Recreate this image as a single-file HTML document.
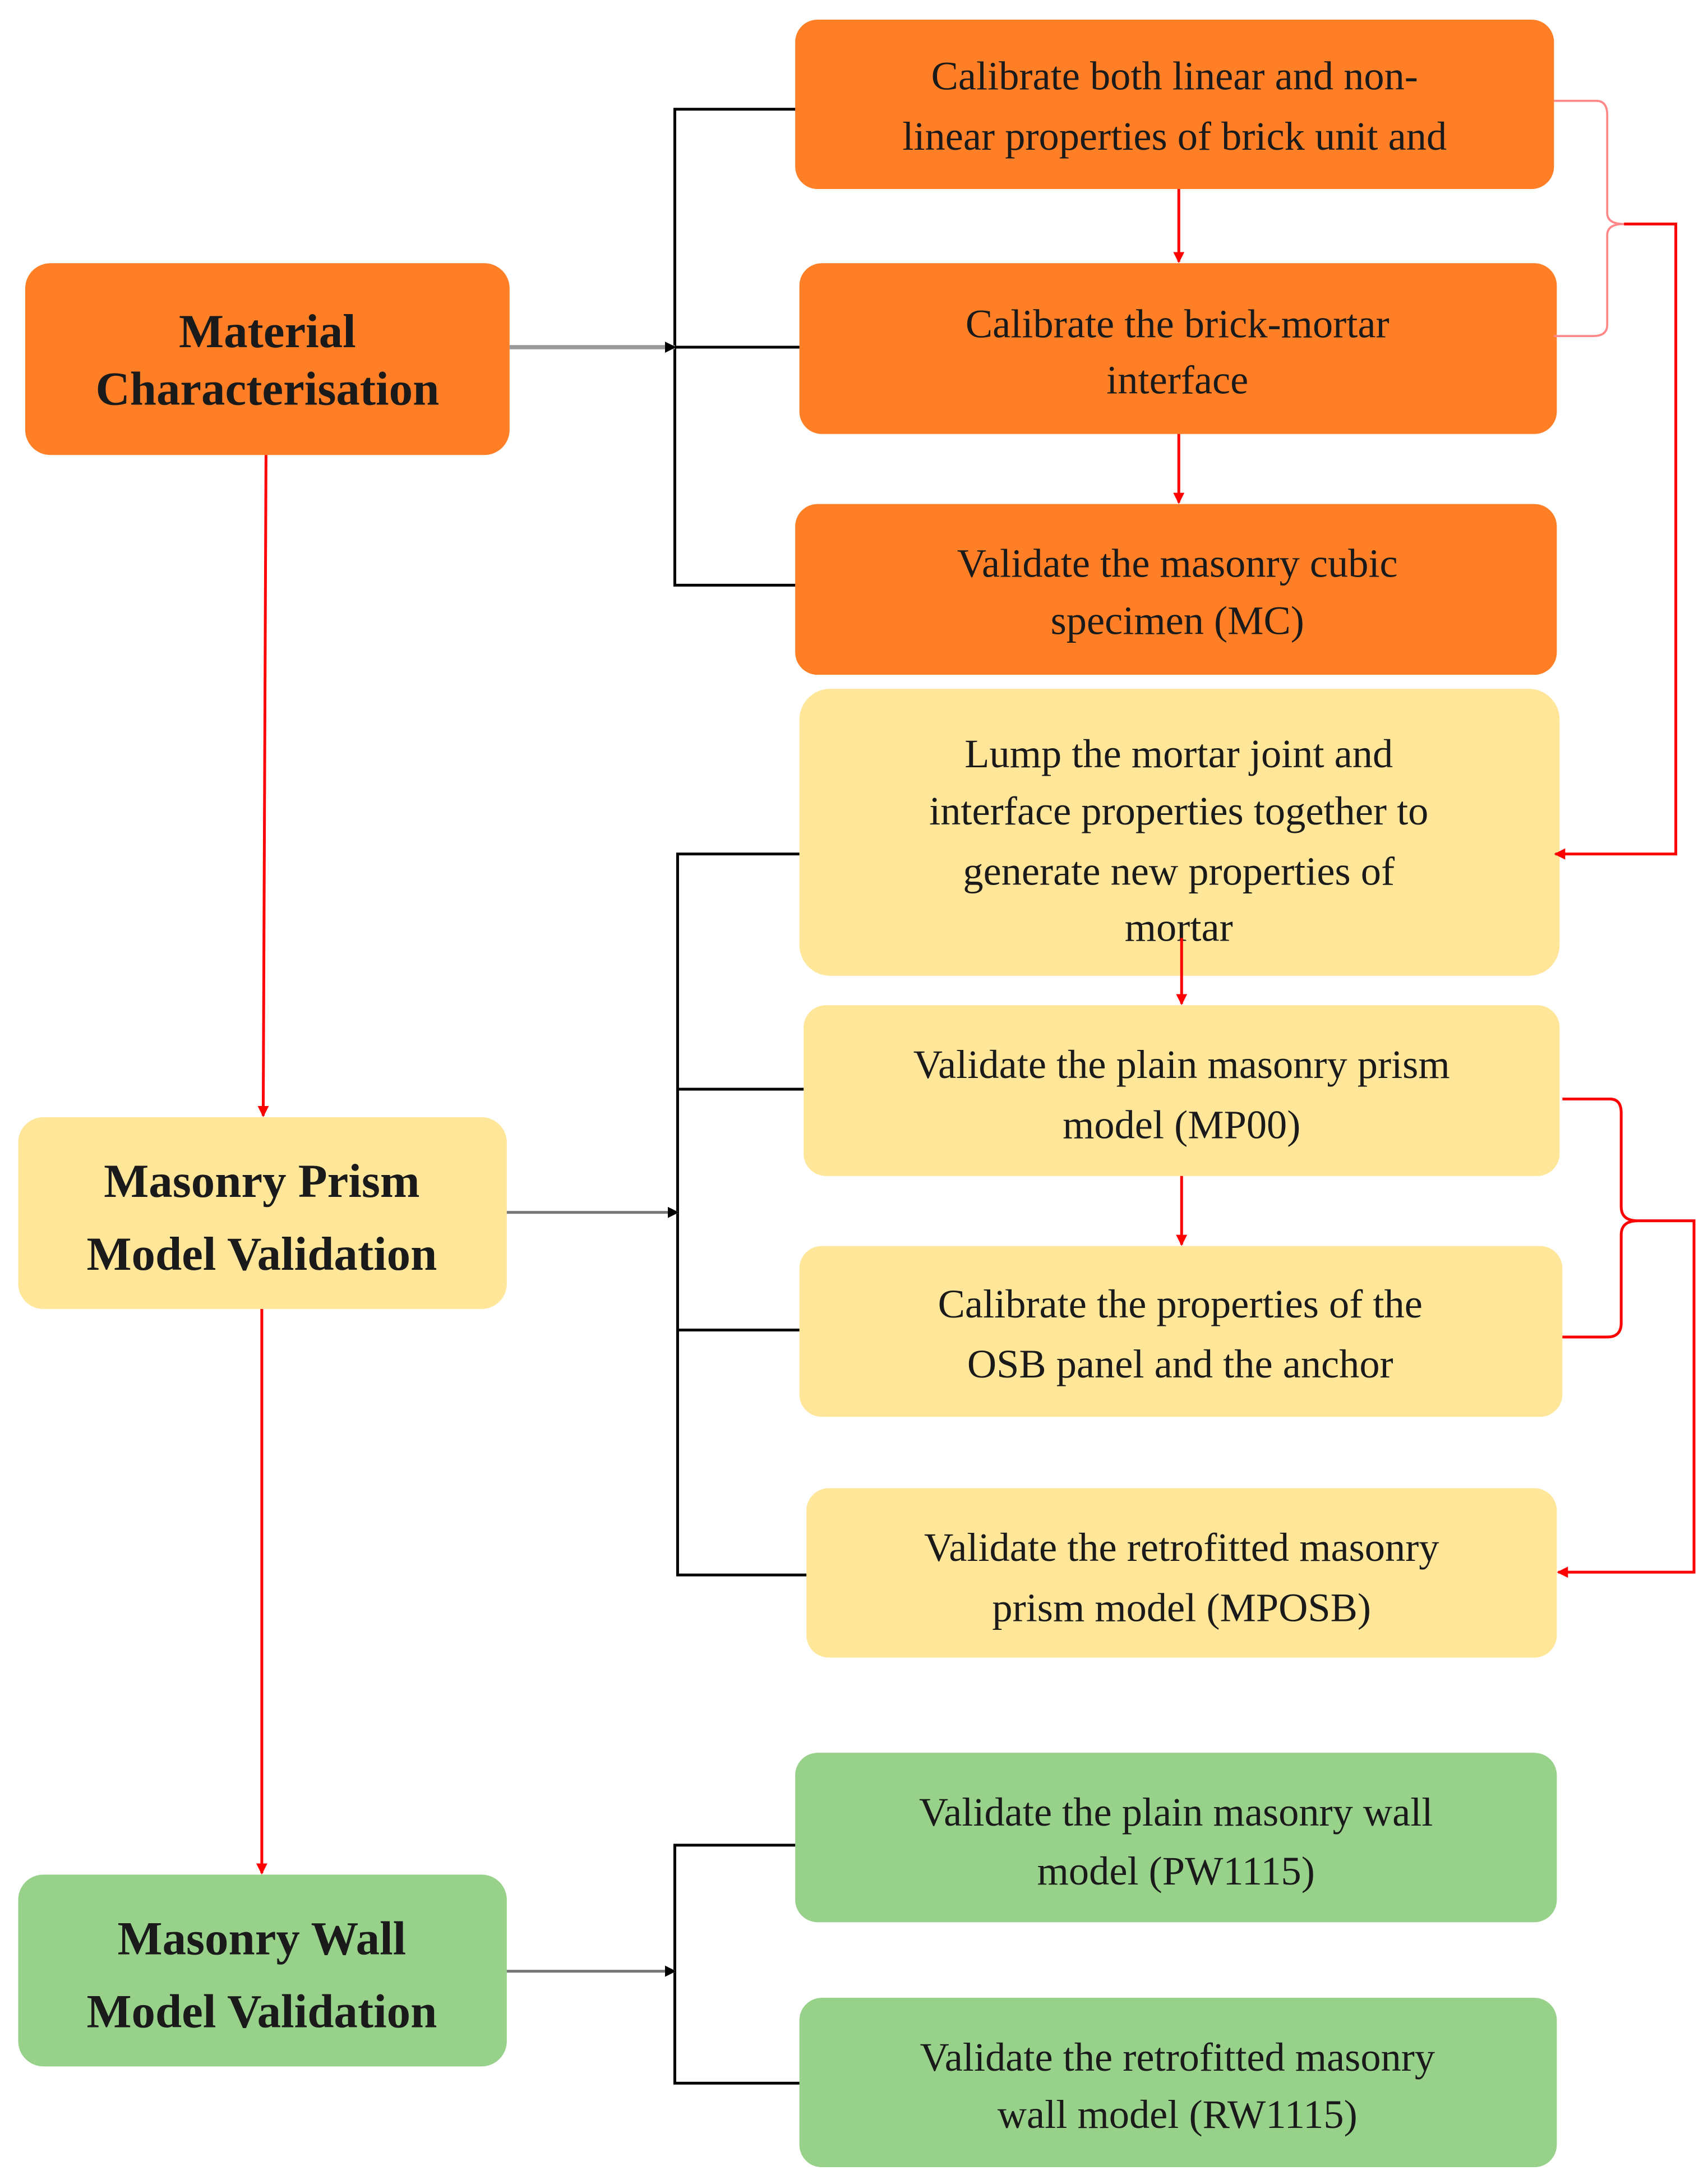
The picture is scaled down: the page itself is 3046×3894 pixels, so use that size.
<!DOCTYPE html>
<html><head><meta charset="utf-8"><style>html,body{margin:0;padding:0;background:#fff}svg{display:block}</style></head>
<body>
<svg width="3046" height="3894" viewBox="0 0 1220 1560" preserveAspectRatio="none" xmlns="http://www.w3.org/2000/svg">
<defs>
<marker id="ar" markerWidth="8" markerHeight="8" refX="7" refY="4" orient="auto" markerUnits="userSpaceOnUse"><path d="M0,0 L8,4 L0,8 z" fill="#ff0000"/></marker>
<marker id="ab" markerWidth="8" markerHeight="8" refX="7" refY="4" orient="auto" markerUnits="userSpaceOnUse"><path d="M0,0 L8,4 L0,8 z" fill="#000"/></marker>
</defs>
<g font-family="'Liberation Serif', serif" text-anchor="middle" fill="#1a1a1a">
<!-- left boxes -->
<rect x="18" y="188" width="346" height="137" rx="18" fill="#FF7F27"/>
<text x="191" y="248" font-size="34" font-weight="bold">Material</text>
<text x="191" y="289" font-size="34" font-weight="bold">Characterisation</text>
<rect x="13" y="798" width="349" height="137" rx="18" fill="#FFE699"/>
<text x="187" y="855" font-size="34" font-weight="bold">Masonry Prism</text>
<text x="187" y="907" font-size="34" font-weight="bold">Model Validation</text>
<rect x="13" y="1339" width="349" height="137" rx="18" fill="#97D18A"/>
<text x="187" y="1396" font-size="34" font-weight="bold">Masonry Wall</text>
<text x="187" y="1448" font-size="34" font-weight="bold">Model Validation</text>
<!-- right boxes -->
<g font-size="29">
<rect x="568" y="14" width="542" height="121" rx="16" fill="#FF7F27"/>
<text x="839" y="64">Calibrate both linear and non-</text>
<text x="839" y="107">linear properties of brick unit and</text>
<rect x="571" y="188" width="541" height="122" rx="16" fill="#FF7F27"/>
<text x="841" y="241">Calibrate the brick-mortar</text>
<text x="841" y="281">interface</text>
<rect x="568" y="360" width="544" height="122" rx="16" fill="#FF7F27"/>
<text x="841" y="412">Validate the masonry cubic</text>
<text x="841" y="453">specimen (MC)</text>
<rect x="571" y="492" width="543" height="205" rx="22" fill="#FFE699"/>
<text x="842" y="548">Lump the mortar joint and</text>
<text x="842" y="589">interface properties together to</text>
<text x="842" y="632">generate new properties of</text>
<text x="842" y="672">mortar</text>
<rect x="574" y="718" width="540" height="122" rx="16" fill="#FFE699"/>
<text x="844" y="770">Validate the plain masonry prism</text>
<text x="844" y="813">model (MP00)</text>
<rect x="571" y="890" width="545" height="122" rx="16" fill="#FFE699"/>
<text x="843" y="941">Calibrate the properties of the</text>
<text x="843" y="984">OSB panel and the anchor</text>
<rect x="576" y="1063" width="536" height="121" rx="16" fill="#FFE699"/>
<text x="844" y="1115">Validate the retrofitted masonry</text>
<text x="844" y="1158">prism model (MPOSB)</text>
<rect x="568" y="1252" width="544" height="121" rx="16" fill="#97D18A"/>
<text x="840" y="1304">Validate the plain masonry wall</text>
<text x="840" y="1346">model (PW1115)</text>
<rect x="571" y="1427" width="541" height="121" rx="16" fill="#97D18A"/>
<text x="841" y="1479">Validate the retrofitted masonry</text>
<text x="841" y="1520">wall model (RW1115)</text>
</g>
</g>
<!-- black brackets -->
<g stroke="#000" stroke-width="2" fill="none">
<path d="M568,78 H482 V418 H568 M482,248 H571"/>
<path d="M571,610 H484 V1125 H576 M484,778 H574 M484,950 H571"/>
<path d="M568,1318 H482 V1488 H571"/>
</g>
<g stroke="#777" stroke-width="2" fill="none">
<line x1="364" y1="248" x2="482" y2="248" stroke="#999" stroke-width="3" marker-end="url(#ab)"/>
<line x1="362" y1="866" x2="484" y2="866" marker-end="url(#ab)"/>
<line x1="362" y1="1408" x2="482" y2="1408" marker-end="url(#ab)"/>
</g>
<!-- red -->
<g stroke="#ff0000" stroke-width="2" fill="none">
<line x1="190" y1="325" x2="188" y2="797" marker-end="url(#ar)"/>
<line x1="187" y1="935" x2="187" y2="1338" marker-end="url(#ar)"/>
<line x1="842" y1="135" x2="842" y2="187" marker-end="url(#ar)"/>
<line x1="842" y1="310" x2="842" y2="359" marker-end="url(#ar)"/>
<line x1="844" y1="670" x2="844" y2="717" marker-end="url(#ar)"/>
<line x1="844" y1="840" x2="844" y2="889" marker-end="url(#ar)"/>
<path d="M1110,72 H1140 Q1148,72 1148,82 V152 Q1148,160 1160,160 Q1148,160 1148,168 V232 Q1148,240 1138,240 H1110" stroke="#ff8888" stroke-width="1.5"/>
<path d="M1160,160 H1197 V610 H1111" marker-end="url(#ar)"/>
<path d="M1116,785 H1150 Q1158,785 1158,795 V862 Q1158,872 1170,872 Q1158,872 1158,882 V945 Q1158,955 1148,955 H1116"/>
<path d="M1170,872 H1210 V1123 H1113" marker-end="url(#ar)"/>
</g>
</svg>
</body></html>
